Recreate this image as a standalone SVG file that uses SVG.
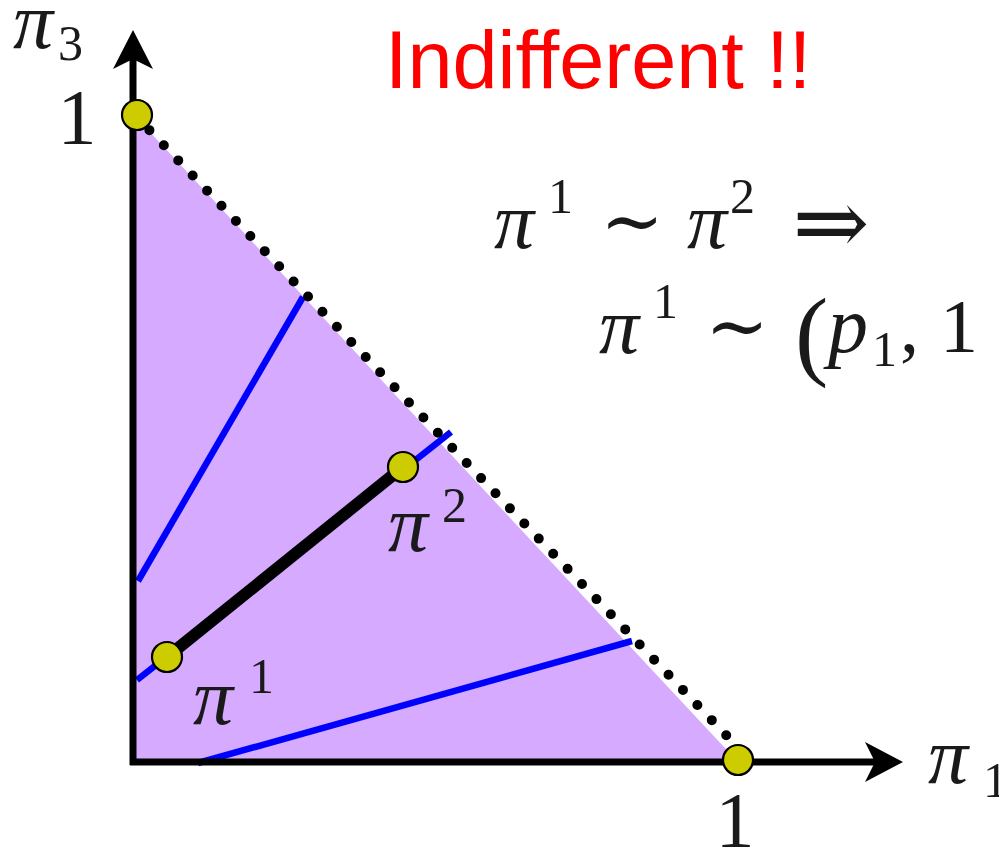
<svg xmlns="http://www.w3.org/2000/svg" width="999" height="852" viewBox="0 0 999 852">
<style>
.m{font-family:"Liberation Serif","DejaVu Serif",serif;fill:#1a1a1a}
.pi{font-style:italic;font-size:80px}
.big{font-size:78px}
.sup{font-size:50px}
.sym{font-family:"DejaVu Serif","Liberation Serif",serif;fill:#1a1a1a}
.blue{stroke:#0000ff;stroke-width:6.5;fill:none}
.pt{fill:#cccc00;stroke:#000;stroke-width:2.2}
</style>
<rect width="999" height="852" fill="#fff"/>
<g id="simplex">
<polygon points="134,115 134,762 738,762" fill="#d5aaff"/>
</g>
<g id="connectors">
<line class="blue" x1="138" y1="581" x2="303" y2="297"/>
<line class="blue" x1="137" y1="680" x2="451" y2="432"/>
<line class="blue" x1="198" y1="763" x2="632" y2="641"/>
<line x1="167" y1="657" x2="403" y2="467" stroke="#000" stroke-width="12"/>
<line x1="135" y1="115" x2="745" y2="755" stroke="#000" stroke-width="10" stroke-linecap="round" stroke-dasharray="0 20.9"/>
</g>
<g id="axes">
<line x1="133" y1="765" x2="133" y2="58" stroke="#000" stroke-width="7"/>
<path d="M133,30 L153,69 L133,59 L113,69 Z" fill="#000"/>
<line x1="130" y1="762" x2="877" y2="762" stroke="#000" stroke-width="7"/>
<path d="M903,762 L865,742 L875,762 L865,782 Z" fill="#000"/>
</g>
<g id="p-top"><circle class="pt" cx="137" cy="115" r="15"/></g>
<g id="p-right"><circle class="pt" cx="738" cy="760" r="15"/></g>
<g id="p1"><circle class="pt" cx="167" cy="657" r="15"/></g>
<g id="p2"><circle class="pt" cx="403" cy="467" r="15"/></g>
<g id="labels">
<text class="m"><tspan class="pi" x="13" y="48">π</tspan><tspan class="sup" x="58" y="60">3</tspan></text>
<text class="m big" x="77" y="143" text-anchor="middle">1</text>
<text class="m big" x="735" y="846" text-anchor="middle">1</text>
<text class="m"><tspan class="pi" x="928" y="783">π</tspan><tspan class="sup" x="983" y="797">1</tspan></text>
<text class="m"><tspan class="pi" x="193" y="724">π</tspan><tspan class="sup" x="249" y="693">1</tspan></text>
<text class="m"><tspan class="pi" x="388" y="551">π</tspan><tspan class="sup" x="442" y="522">2</tspan></text>
<text x="385" y="88" font-family="Liberation Sans, Arial, sans-serif" font-size="81" fill="#ff0000">Indifferent !!</text>
</g>
<g id="formula">
<text class="m"><tspan class="pi" x="494" y="248">π</tspan><tspan class="sup" x="548" y="213">1</tspan></text>
<text class="sym" x="632" y="247" font-size="76" text-anchor="middle">∼</text>
<text class="m"><tspan class="pi" x="687" y="248">π</tspan><tspan class="sup" x="730" y="213">2</tspan></text>
<text class="sym" x="831" y="254" font-size="92" text-anchor="middle">⇒</text>
<text class="m"><tspan class="pi" x="599" y="353">π</tspan><tspan class="sup" x="653" y="318">1</tspan></text>
<text class="sym" x="737" y="352" font-size="76" text-anchor="middle">∼</text>
<text class="m"><tspan font-size="100" x="795" y="367">(</tspan><tspan class="pi" x="828" y="352">p</tspan><tspan class="sup" x="872" y="366">1</tspan><tspan font-size="76" x="900" y="352">,</tspan><tspan font-size="76" x="940" y="352">1</tspan></text>
</g>
</svg>
